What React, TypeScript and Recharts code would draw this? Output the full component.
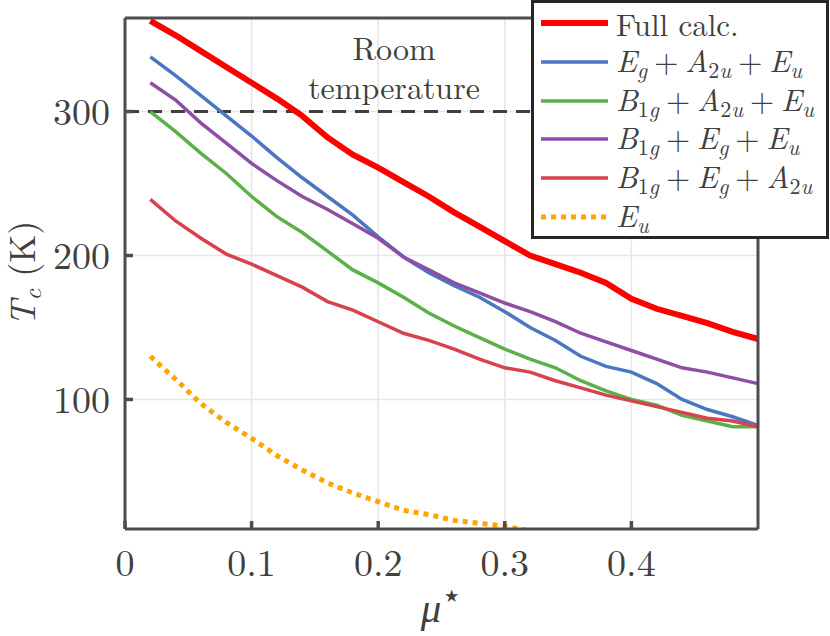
import React from "react";
import {
  LineChart,
  Line,
  XAxis,
  YAxis,
  CartesianGrid,
  ReferenceLine,
} from "recharts";

// mu* sampled every 0.02
const mu = [
  0.02, 0.04, 0.06, 0.08, 0.1, 0.12, 0.14, 0.16, 0.18, 0.2, 0.22, 0.24, 0.26,
  0.28, 0.3, 0.32, 0.34, 0.36, 0.38, 0.4, 0.42, 0.44, 0.46, 0.48, 0.5,
];

const fullCalc = [
  363, 353, 342, 331, 320, 309, 297, 282, 270, 261, 251, 241, 230, 220, 210,
  200, 194, 188, 181, 170, 163, 158, 153, 147, 142,
];
const egA2uEu = [
  338, 325, 311, 297, 283, 268, 254, 241, 228, 213, 199, 188, 179, 171, 161,
  150, 141, 130, 123, 119, 111, 100, 93, 88, 82,
];
const b1gA2uEu = [
  300, 286, 271, 257, 241, 227, 216, 203, 190, 181, 171, 160, 151, 143, 135,
  128, 122, 113, 106, 100, 96, 89, 85, 81, 81,
];
const b1gEgEu = [
  320, 308, 292, 278, 264, 252, 241, 232, 222, 212, 199, 190, 181, 174, 167,
  161, 154, 146, 140, 134, 128, 122, 119, 115, 111,
];
const b1gEgA2u = [
  239, 224, 212, 201, 194, 186, 178, 168, 162, 154, 146, 141, 135, 128, 122,
  119, 113, 108, 103, 99, 95, 91, 87, 85, 81,
];
const eu = [
  130, 114, 97, 84, 73, 61, 51, 42, 35, 29, 23, 20, 16, 14, 12, 8.5, null,
  null, null, null, null, null, null, null, null,
];

const xTicks = [0, 0.1, 0.2, 0.3, 0.4];
const yTicks = [100, 200, 300];
const roomTemp = 300;

const data = mu.map((m, i) => ({
  mu: m,
  full: fullCalc[i],
  egA2uEu: egA2uEu[i],
  b1gA2uEu: b1gA2uEu[i],
  b1gEgEu: b1gEgEu[i],
  b1gEgA2u: b1gEgA2u[i],
  eu: eu[i],
}));

const FONT = '"Latin Modern Roman", "Liberation Serif", serif';
const INK = "#404040";
const AXIS = "#4d4d4d";

const subStyle = { fontSize: 22, verticalAlign: -6, lineHeight: 1 };
// math italic symbol with optional subscript (digits upright, letters italic)
const Sym = ({ c, s }: { c: string; s?: string }) => (
  <>
    <i>{c}</i>
    {s && (
      <sub style={subStyle}>
        {s.split("").map((ch, k) =>
          /\d/.test(ch) ? <span key={k}>{ch}</span> : <i key={k}>{ch}</i>
        )}
      </sub>
    )}
  </>
);
const Plus = () => <span style={{ margin: "0 7px" }}>+</span>;

const series = [
  { key: "full", color: "#ff0000", width: 6, dash: undefined,
    label: <span>Full calc.</span> },
  { key: "egA2uEu", color: "#4a77c0", width: 3.5, dash: undefined,
    label: <span><Sym c="E" s="g" /><Plus /><Sym c="A" s="2u" /><Plus /><Sym c="E" s="u" /></span> },
  { key: "b1gA2uEu", color: "#5cb04a", width: 3.5, dash: undefined,
    label: <span><Sym c="B" s="1g" /><Plus /><Sym c="A" s="2u" /><Plus /><Sym c="E" s="u" /></span> },
  { key: "b1gEgEu", color: "#8e4ea6", width: 3.5, dash: undefined,
    label: <span><Sym c="B" s="1g" /><Plus /><Sym c="E" s="g" /><Plus /><Sym c="E" s="u" /></span> },
  { key: "b1gEgA2u", color: "#d7424f", width: 3.5, dash: undefined,
    label: <span><Sym c="B" s="1g" /><Plus /><Sym c="E" s="g" /><Plus /><Sym c="A" s="2u" /></span> },
  { key: "eu", color: "#ffa500", width: 5, dash: "5 5",
    label: <span><Sym c="E" s="u" /></span> },
];

const RoomLabel = (props: any) => {
  const vb = props.viewBox || {};
  const cx = vb.x + vb.width * 0.425;
  return (
    <g fill={INK} fontFamily={FONT} fontSize={32} textAnchor="middle">
      <text x={cx} y={vb.y - 52}>Room</text>
      <text x={cx} y={vb.y - 13}>temperature</text>
    </g>
  );
};

const XTitle = (props: any) => {
  const vb = props.viewBox || {};
  return (
    <text
      x={vb.x + vb.width / 2}
      y={vb.y + 93}
      fill={INK}
      fontFamily={FONT}
      fontSize={41}
      textAnchor="middle"
    >
      <tspan fontStyle="italic">μ</tspan>
      <tspan fontSize={34} dy={-15}>⋆</tspan>
    </text>
  );
};

const YTitle = (props: any) => {
  const vb = props.viewBox || {};
  const x = vb.x + 35;
  const y = vb.y + vb.height / 2;
  return (
    <text
      x={x}
      y={y}
      fill={INK}
      fontFamily={FONT}
      fontSize={36}
      textAnchor="middle"
      transform={`rotate(-90 ${x} ${y})`}
    >
      <tspan fontStyle="italic">T</tspan>
      <tspan fontStyle="italic" fontSize={25} dy={6}>c</tspan>
      <tspan dy={-6}> (K)</tspan>
    </text>
  );
};

function LegendBox() {
  return (
    <div
      style={{
        position: "absolute",
        left: 531,
        top: 0,
        width: 298,
        height: 239,
        boxSizing: "border-box",
        border: "3px solid #262626",
        background: "#fff",
        fontFamily: FONT,
        fontSize: 31,
        color: INK,
        paddingTop: 1,
      }}
    >
      {series.map((s) => (
        <div
          key={s.key}
          style={{ display: "flex", alignItems: "center", height: 38.7, whiteSpace: "nowrap" }}
        >
          <svg width={76} height={12} style={{ flex: "none" }}>
            <line
              x1={7}
              x2={74}
              y1={6}
              y2={6}
              stroke={s.color}
              strokeWidth={s.width}
              strokeDasharray={s.dash}
            />
          </svg>
          <span style={{ marginLeft: 6, lineHeight: 1 }}>{s.label}</span>
        </div>
      ))}
    </div>
  );
}

export default function App() {
  return (
    <div style={{ position: "absolute", left: 0, top: 0, width: 830, height: 636, background: "#fff" }}>
      <LineChart
        width={830}
        height={636}
        data={data}
        margin={{ top: 18, right: 72, bottom: 0, left: 0 }}
      >
        <CartesianGrid stroke="#e6e6e6" strokeWidth={1.5} />
        <XAxis
          dataKey="mu"
          type="number"
          domain={[0, 0.5]}
          ticks={xTicks}
          height={107}
          tickSize={-8}
          tickMargin={28}
          tickFormatter={(v: number) => String(v)}
          tick={{ fill: INK, fontSize: 38, fontFamily: FONT }}
          axisLine={{ stroke: AXIS, strokeWidth: 3 }}
          tickLine={{ stroke: AXIS, strokeWidth: 3.5 }}
          label={{ content: XTitle }}
        />
        <XAxis
          xAxisId="top"
          orientation="top"
          mirror
          type="number"
          domain={[0, 0.5]}
          ticks={xTicks}
          tick={false}
          tickSize={8}
          axisLine={{ stroke: AXIS, strokeWidth: 3 }}
          tickLine={{ stroke: AXIS, strokeWidth: 3.5 }}
        />
        <YAxis
          type="number"
          domain={[10, 365]}
          allowDataOverflow
          ticks={yTicks}
          width={125}
          tickSize={-8}
          tickMargin={23}
          tick={{ fill: INK, fontSize: 38, fontFamily: FONT }}
          axisLine={{ stroke: AXIS, strokeWidth: 3 }}
          tickLine={{ stroke: AXIS, strokeWidth: 3.5 }}
          label={{ content: YTitle }}
        />
        <YAxis
          yAxisId="right"
          orientation="right"
          mirror
          type="number"
          domain={[10, 365]}
          allowDataOverflow
          ticks={yTicks}
          tick={false}
          tickSize={8}
          axisLine={{ stroke: AXIS, strokeWidth: 3 }}
          tickLine={{ stroke: AXIS, strokeWidth: 3.5 }}
        />
        <ReferenceLine
          y={roomTemp}
          stroke={INK}
          strokeWidth={3}
          strokeDasharray="14 9"
          label={{ content: RoomLabel }}
        />
        {series.map((s) => (
          <Line
            key={s.key}
            dataKey={s.key}
            type="linear"
            stroke={s.color}
            strokeWidth={s.width}
            strokeDasharray={s.dash}
            dot={false}
            activeDot={false}
            connectNulls={false}
            isAnimationActive={false}
          />
        ))}
      </LineChart>
      <LegendBox />
    </div>
  );
}
